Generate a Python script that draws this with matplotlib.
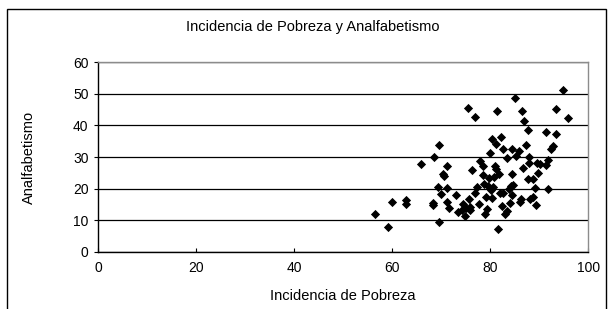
import matplotlib
matplotlib.use("Agg")
import matplotlib.pyplot as plt
from matplotlib.patches import Rectangle

plt.rcParams['font.family'] = ['Liberation Sans', 'DejaVu Sans']

# Incidencia de Pobreza (x) vs Analfabetismo (y)
pobreza = [56.4, 59.2, 60.0, 62.8, 62.8, 65.9, 68.5, 68.4, 68.4, 69.5,
           69.3, 69.6, 70.0, 70.4, 70.5, 71.2, 71.1, 71.1, 71.6, 73.1,
           73.5, 74.2, 74.4, 74.8, 75.0, 75.4, 75.6, 75.8, 75.8, 76.2,
           76.8, 76.8, 77.3, 77.6, 77.8, 78.6, 78.6, 78.8, 79.0, 79.2,
           79.4, 79.6, 79.8, 80.0, 80.2, 80.3, 80.4, 80.6, 80.7, 81.0,
           81.1, 81.2, 81.4, 81.6, 81.8, 82.0, 82.1, 82.3, 82.6, 82.6,
           83.0, 83.4, 83.4, 83.8, 84.0, 84.3, 84.4, 84.5, 84.5, 84.7,
           85.0, 85.2, 85.8, 86.0, 86.3, 86.5, 86.6, 86.9, 87.3, 87.6,
           87.7, 87.9, 88.0, 88.2, 88.7, 88.8, 89.1, 89.3, 89.5, 89.8,
           90.1, 91.3, 91.3, 91.7, 91.8, 92.3, 92.7, 93.4, 93.4, 94.8,
           95.8]
analfabetismo = [11.8, 7.7, 15.9, 16.4, 15.2, 27.9, 30.1, 15.3, 14.7, 33.7,
                 20.6, 9.4, 18.3, 24.7, 24.1, 27.1, 20.2, 15.9, 13.9, 18.1,
                 12.6, 13.2, 15.0, 11.3, 13.9, 45.6, 16.6, 13.2, 14.3, 25.9,
                 42.6, 18.7, 20.6, 15.0, 28.8, 27.2, 24.4, 21.6, 12.1, 17.4,
                 13.4, 20.8, 23.5, 31.4, 19.7, 35.6, 16.9, 20.6, 23.8, 27.1,
                 26.3, 34.1, 44.7, 7.3, 24.6, 18.7, 36.2, 14.5, 18.7, 32.6,
                 12.1, 29.6, 13.0, 20.0, 15.5, 20.8, 32.4, 24.6, 18.1, 21.0,
                 48.8, 30.3, 32.0, 15.6, 16.6, 44.7, 26.6, 41.5, 33.8, 38.5,
                 23.0, 29.9, 28.0, 16.7, 23.0, 17.4, 20.2, 14.8, 28.2, 24.8,
                 27.8, 37.8, 27.6, 29.2, 19.9, 32.4, 33.5, 45.2, 37.3, 51.2,
                 42.3]

x_ticks = [0, 20, 40, 60, 80, 100]
y_ticks = [0, 10, 20, 30, 40, 50, 60]

fig = plt.figure(figsize=(6.09, 3.09), dpi=100)
fig.patch.set_facecolor('white')

# chart border (cropped at the bottom like the original)
fig.patches.append(Rectangle((0.0115, -0.05), 0.983, 1.021, transform=fig.transFigure,
                             fill=False, edgecolor='black', linewidth=1.0))

ax = fig.add_axes([0.1614, 0.1854, 0.8046, 0.613])
ax.scatter(pobreza, analfabetismo, marker='D', s=22, color='black', zorder=3, linewidths=0)

ax.set_xlim(0, 100)
ax.set_ylim(0, 60)
ax.set_xticks(x_ticks)
ax.set_yticks(y_ticks)
ax.yaxis.grid(True, color='black', linewidth=0.9)
ax.set_axisbelow(True)

for s in ['top', 'right']:
    ax.spines[s].set_color('#8c8c8c')
    ax.spines[s].set_linewidth(1.0)
for s in ['left', 'bottom']:
    ax.spines[s].set_color('black')
    ax.spines[s].set_linewidth(1.0)

ax.tick_params(axis='x', direction='in', length=3, pad=7, labelsize=10)
ax.tick_params(axis='y', direction='out', length=3, pad=4, labelsize=10)

fig.text(0.513, 0.913, 'Incidencia de Pobreza y Analfabetismo', ha='center', va='center', fontsize=10.5)
fig.text(0.563, 0.042, 'Incidencia de Pobreza', ha='center', va='center', fontsize=10.5)
fig.text(0.048, 0.49, 'Analfabetismo', ha='center', va='center', rotation=90, fontsize=10.5)

fig.savefig('out.png', dpi=100)
